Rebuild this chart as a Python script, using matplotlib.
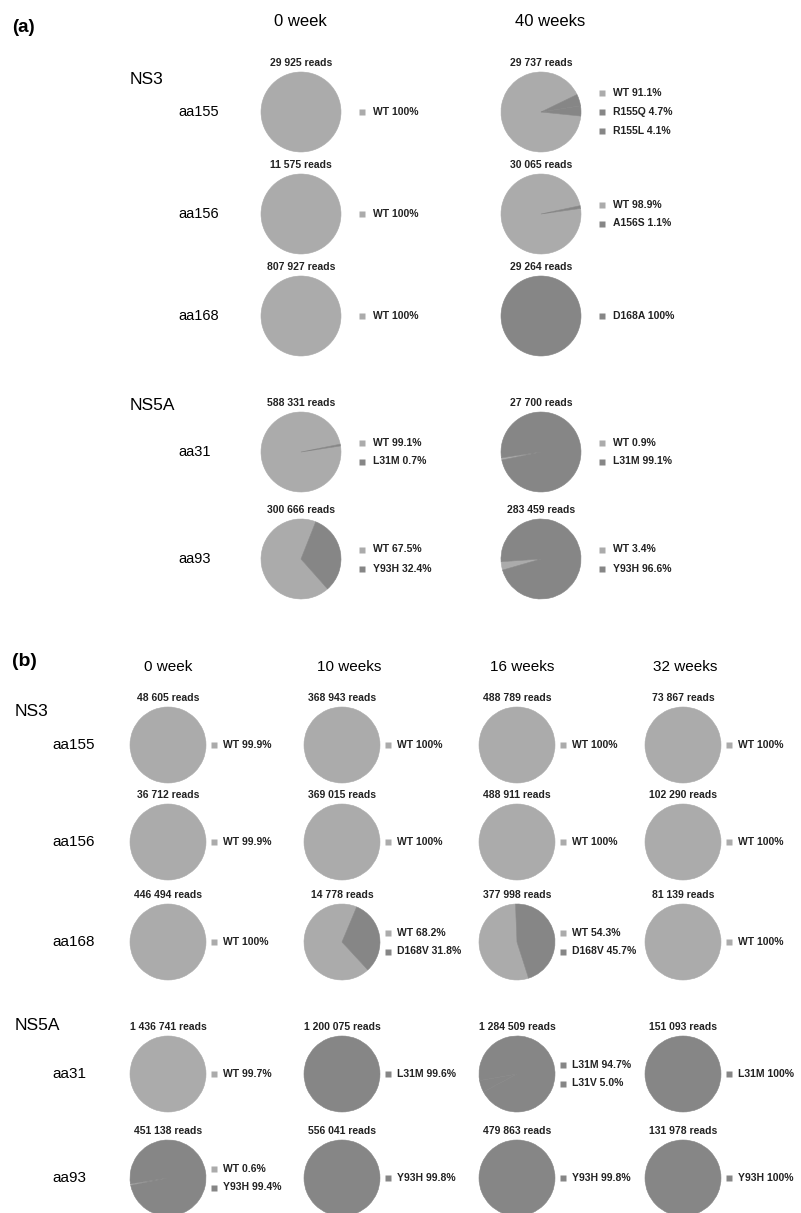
import matplotlib.pyplot as plt

# ---- panel (a): 0 week vs 40 weeks ----
a_weeks = ['0 week', '40 weeks']
a_genes = ['NS3', 'NS3', 'NS3', 'NS5A', 'NS5A']
a_sites = ['aa155', 'aa156', 'aa168', 'aa31', 'aa93']
a_reads = [
    [29925, 29737],
    [11575, 30065],
    [807927, 29264],
    [588331, 27700],
    [300666, 283459],
]
a_variants = [
    [['WT'], ['WT', 'R155Q', 'R155L']],
    [['WT'], ['WT', 'A156S']],
    [['WT'], ['D168A']],
    [['WT', 'L31M'], ['WT', 'L31M']],
    [['WT', 'Y93H'], ['WT', 'Y93H']],
]
a_percents = [
    [[100], [91.1, 4.7, 4.1]],
    [[100], [98.9, 1.1]],
    [[100], [100]],
    [[99.1, 0.7], [0.9, 99.1]],
    [[67.5, 32.4], [3.4, 96.6]],
]

# ---- panel (b): 0 / 10 / 16 / 32 weeks ----
b_weeks = ['0 week', '10 weeks', '16 weeks', '32 weeks']
b_genes = ['NS3', 'NS3', 'NS3', 'NS5A', 'NS5A']
b_sites = ['aa155', 'aa156', 'aa168', 'aa31', 'aa93']
b_reads = [
    [48605, 368943, 488789, 73867],
    [36712, 369015, 488911, 102290],
    [446494, 14778, 377998, 81139],
    [1436741, 1200075, 1284509, 151093],
    [451138, 556041, 479863, 131978],
]
b_variants = [
    [['WT'], ['WT'], ['WT'], ['WT']],
    [['WT'], ['WT'], ['WT'], ['WT']],
    [['WT'], ['WT', 'D168V'], ['WT', 'D168V'], ['WT']],
    [['WT'], ['L31M'], ['L31M', 'L31V'], ['L31M']],
    [['WT', 'Y93H'], ['Y93H'], ['Y93H'], ['Y93H']],
]
b_percents = [
    [[99.9], [100], [100], [100]],
    [[99.9], [100], [100], [100]],
    [[100], [68.2, 31.8], [54.3, 45.7], [100]],
    [[99.7], [99.6], [94.7, 5.0], [100]],
    [[0.6, 99.4], [99.8], [99.8], [100]],
]

WT_COL = '#ababab'
MUT_COL = '#868686'
FONT = ['Liberation Sans', 'DejaVu Sans']

fig = plt.figure(figsize=(8.01, 12.13), dpi=100)
ax = fig.add_axes([0, 0, 1, 1])


def fmt_reads(n):
    return f'{n:,}'.replace(',', ' ') + ' reads'


def draw_pie(cx, cy, r, names, vals, reads, mk_dx, txt_dx, fs):
    cols = [WT_COL if n == 'WT' else MUT_COL for n in names]
    tot = sum(vals)
    mut = sum(v for n, v in zip(names, vals) if n != 'WT') / tot
    # y axis is flipped, so the mutant share ends up centred just above 3 o'clock
    wedges, _ = ax.pie(vals, colors=cols, center=(cx, cy), radius=r,
                       startangle=-10 + 180 * mut, counterclock=True, frame=True)
    for w in wedges:
        w.set_edgecolor(w.get_facecolor())
        w.set_linewidth(0.4)
    ax.text(cx, cy - r - 9, fmt_reads(reads), ha='center', va='center',
            fontsize=fs, fontweight='bold', family=FONT, color='#222222')
    n = len(names)
    for i, (nm, v, c) in enumerate(zip(names, vals, cols)):
        ly = cy + (i - (n - 1) / 2) * 19
        ax.plot(cx + mk_dx, ly, marker='s', ms=4, color=c, mec='none')
        pct = f'{v:g}' if v == 100 else f'{v:.1f}'
        ax.text(cx + txt_dx, ly, f'{nm} {pct}%', ha='left', va='center',
                fontsize=fs, fontweight='bold', family=FONT, color='#222222')


# panel (a)
a_cx = [301, 541]
a_cy = [112, 214, 316, 452, 559]
ax.text(12, 28, '(a)', fontsize=13.5, fontweight='bold', family=FONT, va='center')
for x, w in zip([300, 550], a_weeks):
    ax.text(x, 22, w, fontsize=12, family=FONT, ha='center', va='center')
for gene, y in [('NS3', 80), ('NS5A', 405)]:
    ax.text(130, y, gene, fontsize=12.5, family=FONT, ha='left', va='center')
for i, site in enumerate(a_sites):
    ax.text(178, a_cy[i], site, fontsize=10.5, family=FONT, ha='left', va='center')
    for j in range(2):
        draw_pie(a_cx[j], a_cy[i], 40, a_variants[i][j], a_percents[i][j],
                 a_reads[i][j], 61, 72, 7.5)

# panel (b)
b_cx = [168, 342, 517, 683]
b_cy = [745, 842, 942, 1074, 1178]
ax.text(12, 662, '(b)', fontsize=14, fontweight='bold', family=FONT, va='center')
for x, w in zip([168, 349, 522, 685], b_weeks):
    ax.text(x, 667, w, fontsize=11, family=FONT, ha='center', va='center')
for gene, y in [('NS3', 712), ('NS5A', 1025)]:
    ax.text(15, y, gene, fontsize=12.5, family=FONT, ha='left', va='center')
for i, site in enumerate(b_sites):
    ax.text(52, b_cy[i], site, fontsize=11, family=FONT, ha='left', va='center')
    for j in range(4):
        draw_pie(b_cx[j], b_cy[i], 38, b_variants[i][j], b_percents[i][j],
                 b_reads[i][j], 46, 55, 7.5)

ax.set_xlim(0, 801)
ax.set_ylim(1213, 0)
ax.set_aspect('equal')
ax.axis('off')

fig.savefig('out.png', dpi=100, facecolor='white')
